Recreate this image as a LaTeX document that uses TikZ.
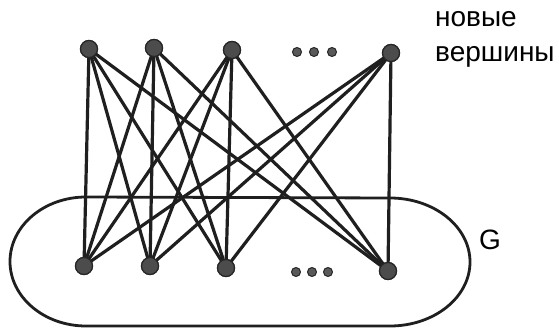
\documentclass[tikz,border=0pt]{standalone}
\usepackage{fontspec}
\setmainfont{Liberation Sans}
\begin{document}
\begin{tikzpicture}[x=1pt,y=-1pt,
  vtx/.style={circle,fill=black!70,draw=black!85,line width=1.2pt,inner sep=0pt,minimum size=17pt},
  smalldot/.style={circle,fill=black!65,draw=black!85,line width=1pt,inner sep=0pt,minimum size=9pt},
  edge/.style={line width=3.2pt,draw=black!88},
  lbl/.style={font=\fontsize{28}{35}\selectfont,inner sep=0pt}]
\useasboundingbox (0,0) rectangle (559,336);
% outline of G
\draw[line width=2.8pt,black!88] (86,197) -- (390,198) arc (-90:90:80 and 64) -- (86,326) arc (90:270:76 and 64.5);
% top vertices
\node[vtx] (t1) at (89,49) {};
\node[vtx] (t2) at (154,48) {};
\node[vtx] (t3) at (232,50) {};
\node[vtx] (t4) at (391,53) {};
% bottom vertices
\node[vtx] (b1) at (84,266) {};
\node[vtx] (b2) at (150,266) {};
\node[vtx] (b3) at (226,268) {};
\node[vtx] (b4) at (388,271) {};
\foreach \t in {t1,t2,t3,t4}{
  \foreach \b in {b1,b2,b3,b4}{
    \draw[edge] (\t.center) -- (\b.center);
  }
}
\foreach \n in {t1,t2,t3,t4,b1,b2,b3,b4}{\node[vtx] at (\n) {};}
% dots
\node[smalldot] (d1) at (297,52) {};
\node[smalldot] (d2) at (314,52) {};
\node[smalldot] (d3) at (332,52) {};
\node[smalldot] (e1) at (296,272) {};
\node[smalldot] (e2) at (312,272) {};
\node[smalldot] (e3) at (328,272) {};
% labels
\node[lbl,anchor=base west] (l1) at (435,27) {новые};
\node[lbl,anchor=base west] (l2) at (435,62) {вершины};
\node[lbl] (g) at (490,240) {G};
\end{tikzpicture}
\end{document}
